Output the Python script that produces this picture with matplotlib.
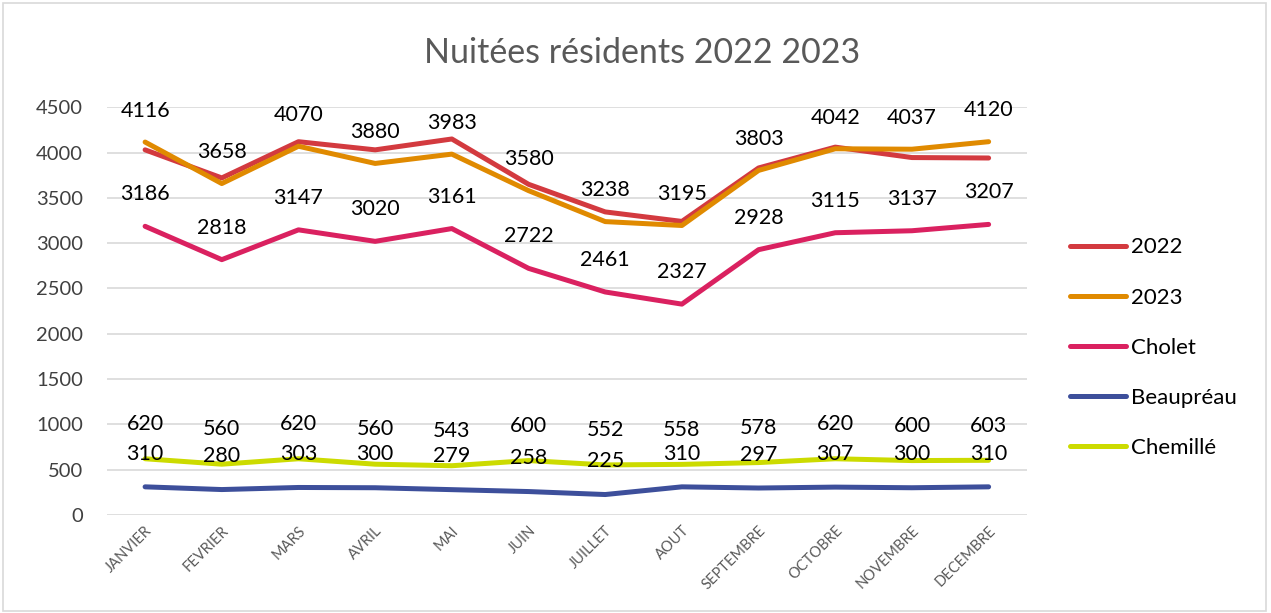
import matplotlib.pyplot as plt
from matplotlib.patches import Rectangle

plt.rcParams['font.family'] = ['Lato', 'DejaVu Sans']

mois = ['JANVIER', 'FEVRIER', 'MARS', 'AVRIL', 'MAI', 'JUIN', 'JUILLET',
        'AOUT', 'SEPTEMBRE', 'OCTOBRE', 'NOVEMBRE', 'DECEMBRE']

v2022 = [4030, 3720, 4120, 4030, 4150, 3650, 3345, 3240, 3830, 4060, 3945, 3940]
v2023 = [4116, 3658, 4070, 3880, 3983, 3580, 3238, 3195, 3803, 4042, 4037, 4120]
cholet = [3186, 2818, 3147, 3020, 3161, 2722, 2461, 2327, 2928, 3115, 3137, 3207]
beaupreau = [310, 280, 303, 300, 279, 258, 225, 310, 297, 307, 300, 310]
chemille = [620, 560, 620, 560, 543, 600, 552, 558, 578, 620, 600, 603]

# name, values, colour, label offset (pts) or None
series = [
    ('2022', v2022, '#D33A3F', None),
    ('2023', v2023, '#E08A00', 22.5),
    ('Cholet', cholet, '#DA2160', 23),
    ('Beaupréau', beaupreau, '#3D4F9B', 24),
    ('Chemillé', chemille, '#CCDB00', 25),
]

fig = plt.figure(figsize=(12.71, 6.13), dpi=100)
fig.patches.append(Rectangle((0.002, 0.003), 0.994, 0.992, transform=fig.transFigure,
                             fill=False, edgecolor='#D9D9D9', lw=1.2))
ax = fig.add_axes([0.084, 0.160, 0.724, 0.665])

x = list(range(len(mois)))
for name, vals, col, off in series:
    ax.plot(x, vals, color=col, lw=3.6, solid_capstyle='round',
            solid_joinstyle='round', label=name)
    if off is not None:
        for xi, v in zip(x, vals):
            ax.annotate(str(v), (xi, v), xytext=(0, off), textcoords='offset points',
                        ha='center', va='center', fontsize=15.5, color='black')

ax.set_xlim(-0.5, 11.5)
ax.set_ylim(0, 4500)
ax.set_yticks(range(0, 4501, 500))
ax.set_xticks(x)
ax.set_xticklabels(mois, rotation=45, ha='right', rotation_mode='anchor',
                   fontsize=10.5, color='#595959')
ax.tick_params(axis='y', length=0, labelsize=14.5, pad=17, labelcolor='#404040')
ax.tick_params(axis='x', length=0, pad=6)
ax.grid(axis='y', color='#D9D9D9', lw=1.2)
ax.set_axisbelow(True)
for s in ax.spines.values():
    s.set_visible(False)

fig.text(0.505, 0.914, 'Nuitées résidents 2022 2023', ha='center', va='center',
         fontsize=24.5, color='#595959')

leg = ax.legend(loc='center left', bbox_to_anchor=(1.025, 0.41), frameon=False,
                fontsize=16, handlelength=2.5, handletextpad=0.25, labelspacing=1.36)

fig.savefig('out.png', dpi=100)
